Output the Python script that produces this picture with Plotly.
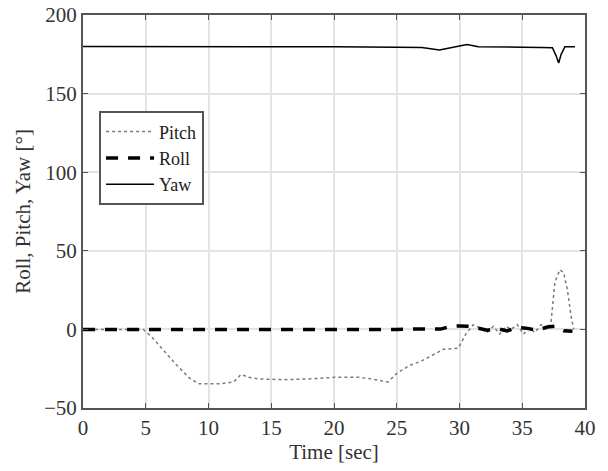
import plotly.graph_objects as go

# Time samples (s) and values (deg)
t_yaw = [0, 5, 10, 12.5, 15, 20, 25, 27, 28.4, 29.5, 30.6, 31.5, 33, 35, 36.5, 37.4, 37.7, 37.9, 38.1, 38.4, 39.2]
yaw   = [180, 180, 180, 179.8, 179.8, 179.8, 179.5, 179.3, 177.7, 179.5, 181.3, 179.8, 179.5, 179.5, 179.3, 179.2, 174, 169.5, 175, 179.8, 179.8]

t_roll = [0, 5, 10, 15, 20, 25, 27, 28.5, 29.2, 30, 30.8, 31.5, 32.2, 33, 33.8, 34.5, 35.3, 36.2, 37, 37.6, 38.3, 39.0]
roll   = [0, 0, -0.3, 0, 0, 0, 0.3, 0.2, 1.8, 2.2, 2.0, 0.5, -0.5, 0.5, -1.0, 1.2, 0.8, -0.5, 1.5, 2.0, -0.8, -1.2]

t_pitch = [0, 4.8, 5.5, 6.5, 7.5, 8.5, 9.2, 10, 11, 12.0, 12.6, 13.2, 14, 16, 18, 20, 22, 23, 24.3, 25, 26, 27, 28, 28.7, 29.9, 30.5, 31.1, 31.6, 32.2, 32.7, 33.2, 33.7, 34.1, 34.6, 35.1, 35.6, 36.0, 36.5, 37.0, 37.3, 37.6, 38.0, 38.3, 38.6, 38.9, 39.1]
pitch   = [0, 0, -5, -14, -23, -31, -34.5, -34.5, -34.5, -33.5, -28.6, -30.5, -31.5, -32, -31.5, -30.5, -30.5, -31.5, -33.5, -28, -23, -20, -16, -12.7, -12, -3, 3, 1, -2, 2, -3, 2, 0, 3, -3, 1, -2, 3, 0, 5, 30, 38, 36, 25, 8, 0]

x_ticks = [0, 5, 10, 15, 20, 25, 30, 35, 40]
y_ticks = [-50, 0, 50, 100, 150, 200]

fig = go.Figure()
fig.add_trace(go.Scatter(x=t_pitch, y=pitch, mode="lines", name="Pitch",
                         line=dict(color="#7a7a7a", width=1.5, dash="dot")))
fig.add_trace(go.Scatter(x=t_roll, y=roll, mode="lines", name="Roll",
                         line=dict(color="black", width=3.5, dash="12px,10px")))
fig.add_trace(go.Scatter(x=t_yaw, y=yaw, mode="lines", name="Yaw",
                         line=dict(color="black", width=1.5)))

font = dict(family="Liberation Serif", size=21, color="#333333")
axis_common = dict(showline=True, mirror="ticks", linecolor="#555555", linewidth=2,
                   ticks="inside", ticklen=5, tickcolor="#555555",
                   showgrid=True, gridcolor="#e3e3e3", gridwidth=1.5, zeroline=False,
                   tickfont=font, automargin=False)
fig.update_layout(
    width=608, height=471,
    margin=dict(l=83, r=23, t=15, b=63),
    plot_bgcolor="white", paper_bgcolor="white",
    font=font,
    showlegend=True,
    legend=dict(x=0.032, y=0.755, xanchor="left", yanchor="top",
                bgcolor="white", bordercolor="#555555", borderwidth=2,
                font=dict(family="Liberation Serif", size=18, color="#222222"),
                tracegroupgap=0, itemwidth=48),
    xaxis=dict(range=[0, 40], tickvals=x_ticks,
               title=dict(text="Time [sec]", font=font, standoff=4), **axis_common),
    yaxis=dict(range=[-50, 200], tickvals=y_ticks,
               title=dict(text="Roll, Pitch, Yaw [°]", font=font, standoff=8), **axis_common),
)
fig.write_html("out.html", config={"displayModeBar": False},
               post_script="document.body.style.margin='0';document.body.style.overflow='hidden';")
